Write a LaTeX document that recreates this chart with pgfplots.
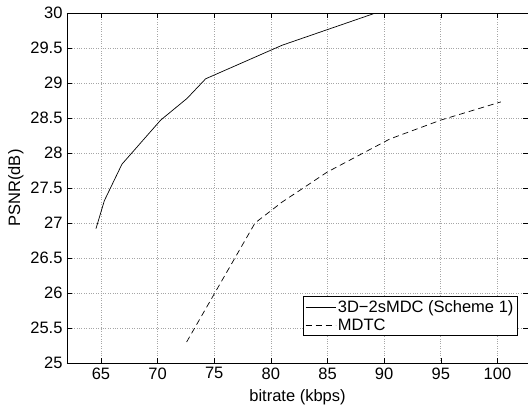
\documentclass[border=0pt]{standalone}
\usepackage{pgfplots}
\pgfplotsset{compat=1.18}
\usepackage{fontspec}
\setmainfont{Liberation Sans}
\begin{document}
\begin{tikzpicture}[font=\fontsize{16.5}{19}\selectfont]
\begin{axis}[
  scale only axis,
  width=461pt, height=350pt,
  xmin=62, xmax=102.7,
  ymin=25, ymax=30,
  xtick={65,70,...,100},
  ytick={25,25.5,...,30},
  yticklabel style={/pgf/number format/fixed,/pgf/number format/precision=1, xshift=-1pt},
  xticklabel style={yshift=-1pt},
  /pgf/number format/assume math mode=true,
  tick align=inside,
  major tick length=5pt,
  tick style={black, line width=0.5pt},
  axis line style={line width=0.9pt},
  grid=major,
  grid style={dotted, gray!70, line width=0.6pt},
  xlabel={bitrate (kbps)},
  ylabel={PSNR(dB)},
  xlabel style={yshift=-3pt},
  ylabel style={yshift=0pt},
  legend style={at={(rel axis cs:0.978,0.077)}, anchor=south east, draw=black, line width=0.8pt, fill=white, font=\fontsize{16.5}{18}\selectfont, inner sep=2pt, row sep=1pt},
  legend cell align=left,
  legend image code/.code={\draw[#1, line width=0.6pt] (0pt,0pt) -- (30pt,0pt);},
]
\addplot[black, line width=0.7pt] coordinates {
(64.56,26.92) (65.3,27.32) (66.85,27.84) (70.27,28.47) (72.6,28.78) (74.24,29.06) (81,29.54) (89.24,30.0)
};
\addlegendentry{3D\textminus 2sMDC (Scheme 1)}
\addplot[black, line width=0.7pt, dash pattern=on 6pt off 4pt] coordinates {
(72.56,25.30) (78.6,27.0) (81,27.3) (85,27.73) (90.5,28.2) (95,28.47) (100.3,28.73)
};
\addlegendentry{MDTC}
\end{axis}
\pgfresetboundingbox
\path[use as bounding box] (current axis.south west) ++(-67pt,-42pt) rectangle ++(528pt,405pt);
\end{tikzpicture}
\end{document}
